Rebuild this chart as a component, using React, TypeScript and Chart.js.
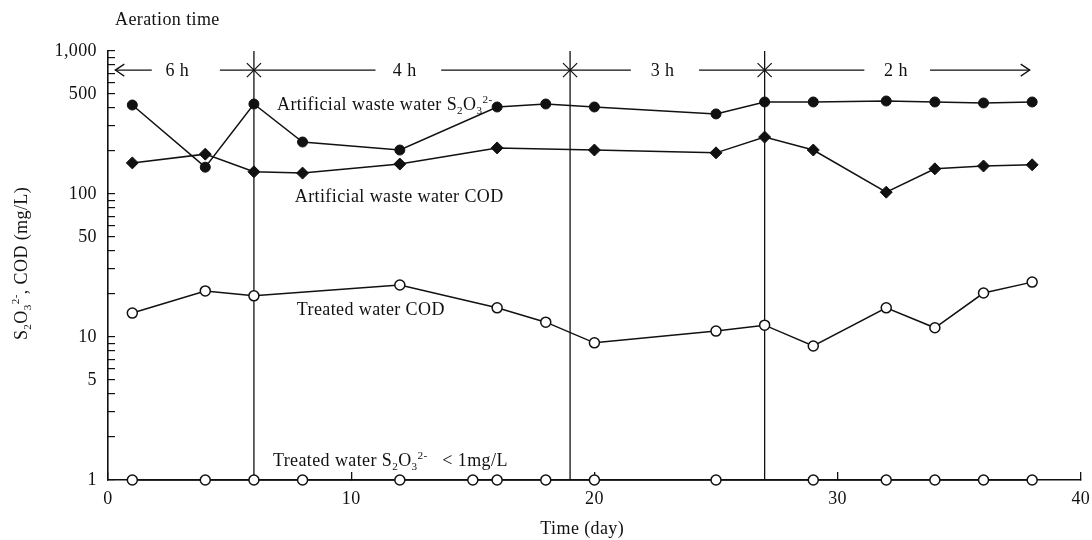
import React, { useEffect, useRef } from 'react';
import { Chart, registerables } from 'chart.js';

Chart.register(...registerables);

const FONT = '"Liberation Serif", "Times New Roman", Times, serif';
const INK = '#111111';
const FS = 18;
const LETTER_SPACING = '0.4px';

// ---- data (day, mg/L) ----
const S2O3_IN_DAYS = [1, 4, 6, 8, 12, 16, 18, 20, 25, 27, 29, 32, 34, 36, 38];
const S2O3_IN_VALUES = [419, 154, 426, 231, 203, 406, 426, 406, 363, 440, 440, 447, 440, 433, 440];

const COD_IN_DAYS = [1, 4, 6, 8, 12, 16, 20, 25, 27, 29, 32, 34, 36, 38];
const COD_IN_VALUES = [165, 190, 143, 140, 162, 210, 203, 194, 250, 203, 103, 150, 157, 160];

const COD_OUT_DAYS = [1, 4, 6, 12, 16, 18, 20, 25, 27, 29, 32, 34, 36, 38];
const COD_OUT_VALUES = [14.7, 21, 19.4, 23.1, 16, 12.7, 9.1, 11, 12.1, 8.65, 16, 11.6, 20.3, 24.2];

const S2O3_OUT_DAYS = [1, 4, 6, 8, 12, 15, 16, 18, 20, 25, 29, 32, 34, 36, 38];
const S2O3_OUT_VALUES = [1, 1, 1, 1, 1, 1, 1, 1, 1, 1, 1, 1, 1, 1, 1];

// ---- aeration periods ----
const BOUNDARY_DAYS = [6, 19, 27];
const PERIOD_LABELS = ['6 h', '4 h', '3 h', '2 h'];
const PERIOD_LABEL_DAYS = [2.85, 12.2, 22.8, 32.4];
const PERIOD_SEGMENTS = [
  [0.3, 1.8],
  [4.6, 11.0],
  [13.7, 21.5],
  [24.3, 31.1],
  [33.8, 37.9],
];
const ARROW_LEVEL = 735;
const PERIOD_LABEL_BASE = 670;

// ---- axes ----
const X_MIN = 0;
const X_MAX = 40;
const X_STEP = 10;
const Y_MIN = 1;
const Y_MAX = 1000;
const Y_TICKS = [1, 2, 3, 4, 5, 6, 7, 8, 9, 10, 20, 30, 40, 50, 60, 70, 80, 90, 100, 200, 300, 400, 500, 600, 700, 800, 900, 1000];
const Y_LABELED = [1, 5, 10, 50, 100, 500, 1000];

type Seg = { t: string; k?: 'sub' | 'sup' };

const S2O3: Seg[] = [{ t: 'S' }, { t: '2', k: 'sub' }, { t: 'O' }, { t: '3', k: 'sub' }, { t: '2-', k: 'sup' }];

const TEXT_LABELS: { segs: Seg[]; day: number; base: number }[] = [
  { segs: [{ t: 'Artificial waste water ' }, ...S2O3], day: 6.95, base: 386 },
  { segs: [{ t: 'Artificial waste water COD' }], day: 7.68, base: 88 },
  { segs: [{ t: 'Treated water COD' }], day: 7.76, base: 14.2 },
  { segs: [{ t: 'Treated water ' }, ...S2O3, { t: '   < 1mg/L' }], day: 6.78, base: 1.25 },
  { segs: [{ t: 'Aeration time' }], day: 0.29, base: 1520 },
];

const Y_TITLE: Seg[] = [...S2O3, { t: ', COD (mg/L)' }];
const X_TITLE = 'Time (day)';
const X_TITLE_DAY = 19.5;

function pts(days: number[], vals: number[]) {
  return days.map((d, i) => ({ x: d, y: vals[i] }));
}

function segWidth(ctx: CanvasRenderingContext2D, segs: Seg[], size: number) {
  let w = 0;
  for (const s of segs) {
    ctx.font = `${s.k ? size * 0.62 : size}px ${FONT}`;
    w += ctx.measureText(s.t).width;
  }
  return w;
}

function drawRich(ctx: CanvasRenderingContext2D, segs: Seg[], x: number, y: number, size: number, align: 'left' | 'center') {
  const w = segWidth(ctx, segs, size);
  let cx = align === 'center' ? x - w / 2 : x;
  ctx.textAlign = 'left';
  ctx.textBaseline = 'alphabetic';
  for (const s of segs) {
    const fs = s.k ? size * 0.62 : size;
    ctx.font = `${fs}px ${FONT}`;
    const dy = s.k === 'sub' ? size * 0.22 : s.k === 'sup' ? -size * 0.42 : 0;
    ctx.fillText(s.t, cx, y + dy);
    cx += ctx.measureText(s.t).width;
  }
}

const annotationPlugin = {
  id: 'paperAnnotations',
  beforeDraw(chart: any) {
    (chart.ctx as any).letterSpacing = LETTER_SPACING;
  },
  afterDatasetsDraw(chart: any) {
    const { ctx, chartArea } = chart;
    const xs = chart.scales.x;
    const ys = chart.scales.y;
    ctx.save();
    ctx.letterSpacing = LETTER_SPACING;
    ctx.fillStyle = INK;
    ctx.strokeStyle = INK;

    // arrowheads of the aeration-period line
    const ay = ys.getPixelForValue(ARROW_LEVEL);
    const sx = xs.getPixelForValue(PERIOD_SEGMENTS[0][0]);
    const ex = xs.getPixelForValue(PERIOD_SEGMENTS[PERIOD_SEGMENTS.length - 1][1]);
    ctx.lineWidth = 1.3;
    ctx.beginPath();
    ctx.moveTo(sx + 9, ay - 6);
    ctx.lineTo(sx, ay);
    ctx.lineTo(sx + 9, ay + 6);
    ctx.moveTo(ex - 9, ay - 6);
    ctx.lineTo(ex, ay);
    ctx.lineTo(ex - 9, ay + 6);
    ctx.stroke();

    // period labels
    PERIOD_LABELS.forEach((lab, i) => {
      drawRich(ctx, [{ t: lab }], xs.getPixelForValue(PERIOD_LABEL_DAYS[i]), ys.getPixelForValue(PERIOD_LABEL_BASE), FS, 'center');
    });

    // series labels
    for (const l of TEXT_LABELS) {
      drawRich(ctx, l.segs, xs.getPixelForValue(l.day), ys.getPixelForValue(l.base), FS, 'left');
    }

    // axis titles
    drawRich(ctx, [{ t: X_TITLE }], xs.getPixelForValue(X_TITLE_DAY), chartArea.bottom + 54, FS, 'center');
    ctx.translate(27, (chartArea.top + chartArea.bottom) / 2 - 2);
    ctx.rotate(-Math.PI / 2);
    drawRich(ctx, Y_TITLE, 0, 0, FS, 'center');
    ctx.restore();
  },
};

export default function App() {
  const ref = useRef<HTMLCanvasElement | null>(null);

  useEffect(() => {
    if (!ref.current) return;

    const boundaryData: any[] = [];
    BOUNDARY_DAYS.forEach((d) => {
      boundaryData.push({ x: d, y: Y_MIN }, { x: d, y: Y_MAX }, { x: d, y: null });
    });
    const periodData: any[] = [];
    PERIOD_SEGMENTS.forEach(([a, b]) => {
      periodData.push({ x: a, y: ARROW_LEVEL }, { x: b, y: ARROW_LEVEL }, { x: b, y: null });
    });

    const lineBase = {
      borderColor: INK,
      borderWidth: 1.5,
      tension: 0,
      clip: false as any,
    };

    const chart = new Chart(ref.current, {
      type: 'line',
      data: {
        datasets: [
          {
            label: 'Aeration period boundaries',
            data: boundaryData,
            borderColor: INK,
            borderWidth: 1.3,
            pointRadius: 0,
            spanGaps: false,
            order: 10,
          },
          {
            label: 'Aeration period',
            data: periodData,
            borderColor: INK,
            borderWidth: 1.3,
            pointRadius: 0,
            spanGaps: false,
            order: 9,
            clip: false as any,
          },
          {
            label: 'Period change',
            data: BOUNDARY_DAYS.map((d) => ({ x: d, y: ARROW_LEVEL })),
            showLine: false,
            pointStyle: 'crossRot',
            pointRadius: 10,
            borderColor: INK,
            borderWidth: 1.2,
            order: 8,
          },
          {
            label: 'Artificial waste water S2O3',
            data: pts(S2O3_IN_DAYS, S2O3_IN_VALUES),
            ...lineBase,
            pointStyle: 'circle',
            pointRadius: 5,
            pointBorderWidth: 1,
            pointBackgroundColor: INK,
            pointBorderColor: INK,
            order: 1,
          },
          {
            label: 'Artificial waste water COD',
            data: pts(COD_IN_DAYS, COD_IN_VALUES),
            ...lineBase,
            pointStyle: 'rectRot',
            pointRadius: 6,
            pointBorderWidth: 1,
            pointBackgroundColor: INK,
            pointBorderColor: INK,
            order: 1,
          },
          {
            label: 'Treated water COD',
            data: pts(COD_OUT_DAYS, COD_OUT_VALUES),
            ...lineBase,
            pointStyle: 'circle',
            pointRadius: 5,
            pointBorderWidth: 1.5,
            pointBackgroundColor: '#ffffff',
            pointBorderColor: INK,
            order: 1,
          },
          {
            label: 'Treated water S2O3',
            data: pts(S2O3_OUT_DAYS, S2O3_OUT_VALUES),
            ...lineBase,
            pointStyle: 'circle',
            pointRadius: 5,
            pointBorderWidth: 1.5,
            pointBackgroundColor: '#ffffff',
            pointBorderColor: INK,
            order: 1,
          },
        ],
      },
      options: {
        animation: false,
        responsive: false,
        devicePixelRatio: 1,
        layout: { padding: { left: 0, right: 10, top: 51, bottom: 0 } },
        plugins: {
          legend: { display: false },
          tooltip: { enabled: false },
        },
        scales: {
          x: {
            type: 'linear',
            min: X_MIN,
            max: X_MAX,
            ticks: {
              stepSize: X_STEP,
              color: INK,
              font: { family: FONT, size: FS },
              padding: 16,
              maxRotation: 0,
            },
            grid: {
              display: true,
              drawOnChartArea: false,
              drawTicks: true,
              tickLength: -8,
              color: INK,
              lineWidth: 1.3,
            },
            border: { display: true, color: INK, width: 1.6 },
            afterFit: (s: any) => {
              s.height = 60;
              s.paddingLeft = 0;
              s.paddingRight = 0;
            },
          },
          y: {
            type: 'logarithmic',
            min: Y_MIN,
            max: Y_MAX,
            afterBuildTicks: (s: any) => {
              s.ticks = Y_TICKS.map((v) => ({ value: v }));
            },
            ticks: {
              autoSkip: false,
              color: INK,
              font: { family: FONT, size: FS },
              padding: 18,
              callback: (v: any) => (Y_LABELED.includes(Number(v)) ? Number(v).toLocaleString('en-US') : ''),
            },
            grid: {
              display: true,
              drawOnChartArea: false,
              drawTicks: true,
              tickLength: -7,
              color: INK,
              lineWidth: 1.2,
            },
            border: { display: true, color: INK, width: 1.6 },
            afterFit: (s: any) => {
              s.width = 108;
              s.paddingTop = 0;
              s.paddingBottom = 0;
            },
          },
        },
      } as any,
      plugins: [annotationPlugin],
    });

    return () => chart.destroy();
  }, []);

  return (
    <div style={{ position: 'absolute', left: 0, top: 0, width: 1092, height: 540, background: '#fff' }}>
      <canvas ref={ref} width={1092} height={540} style={{ display: 'block' }} />
    </div>
  );
}
